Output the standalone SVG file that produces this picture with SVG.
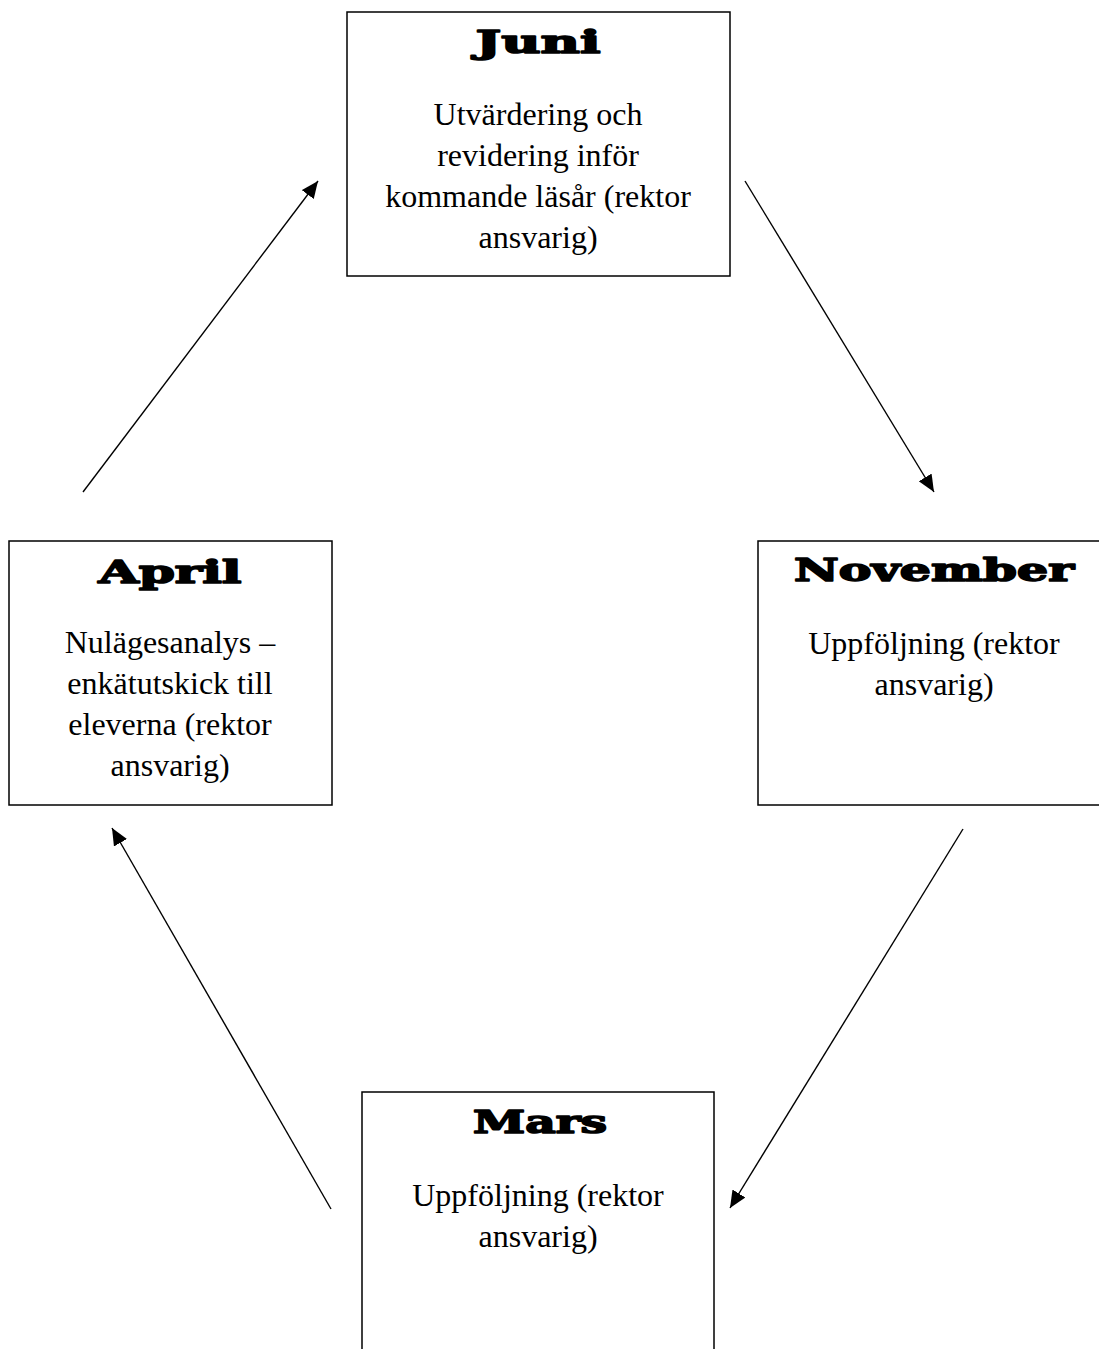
<svg xmlns="http://www.w3.org/2000/svg" width="1099" height="1349" viewBox="0 0 1099 1349">
  <style>
    .box { fill: #fff; stroke: #000; stroke-width: 1.5; }
    .title { font-family: "DejaVu Serif", serif; font-weight: 900; font-size: 31px; text-anchor: middle; fill: #000; stroke: #000; stroke-width: 1.6; stroke-linejoin: round; }
    .body { font-family: "Liberation Serif", "Times New Roman", serif; font-size: 32px; text-anchor: middle; fill: #000; }
    .conn { stroke: #000; stroke-width: 1.4; fill: none; marker-end: url(#arrow); }
  </style>
  <defs>
    <marker id="arrow" markerUnits="userSpaceOnUse" markerWidth="18" markerHeight="16" refX="17" refY="7.5" orient="auto">
      <path d="M0,0 L17,7.5 L0,15 z" fill="#000"/>
    </marker>
  </defs>
  <rect width="1099" height="1349" fill="#fff"/>
  <g id="node-juni">
    <rect class="box" x="347" y="12" width="383" height="264"/>
    <text class="title" x="538" y="53" textLength="125" lengthAdjust="spacingAndGlyphs">Juni</text>
    <text class="body" x="538" y="125">Utvärdering och</text>
    <text class="body" x="538" y="166">revidering inför</text>
    <text class="body" x="538" y="207">kommande läsår (rektor</text>
    <text class="body" x="538" y="248">ansvarig)</text>
  </g>
  <g id="node-april">
    <rect class="box" x="9" y="541" width="323" height="264"/>
    <text class="title" x="170" y="583" textLength="143" lengthAdjust="spacingAndGlyphs">April</text>
    <text class="body" x="170" y="653">Nulägesanalys –</text>
    <text class="body" x="170" y="694">enkätutskick till</text>
    <text class="body" x="170" y="735">eleverna (rektor</text>
    <text class="body" x="170" y="776">ansvarig)</text>
  </g>
  <g id="node-november">
    <rect class="box" x="758" y="541" width="360" height="264"/>
    <text class="title" x="934" y="581" textLength="280" lengthAdjust="spacingAndGlyphs">November</text>
    <text class="body" x="934" y="654">Uppföljning (rektor</text>
    <text class="body" x="934" y="695">ansvarig)</text>
  </g>
  <g id="node-mars">
    <rect class="box" x="362" y="1092" width="352" height="280"/>
    <text class="title" x="540" y="1133" textLength="134" lengthAdjust="spacingAndGlyphs">Mars</text>
    <text class="body" x="538" y="1206">Uppföljning (rektor</text>
    <text class="body" x="538" y="1247">ansvarig)</text>
  </g>
  <g id="connectors">
    <line class="conn" x1="83" y1="492" x2="318" y2="181"/>
    <line class="conn" x1="745" y1="181" x2="934" y2="492"/>
    <line class="conn" x1="963" y1="829" x2="730" y2="1208"/>
    <line class="conn" x1="331" y1="1209" x2="112" y2="828"/>
  </g>
</svg>
